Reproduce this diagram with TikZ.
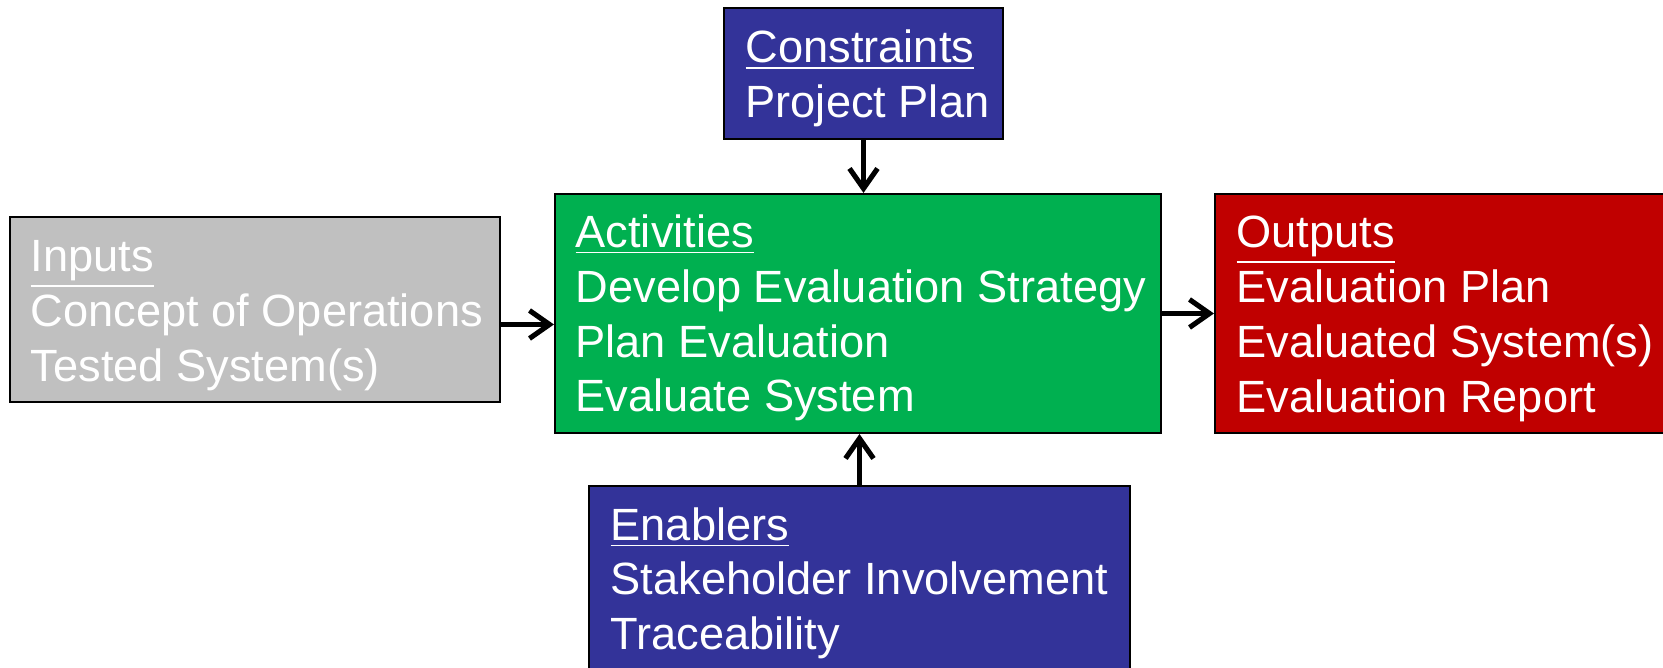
\documentclass[tikz,border=0pt]{standalone}
\usepackage{fontspec}
\setmainfont{Liberation Sans}
\usetikzlibrary{arrows.meta}
\definecolor{boxblue}{RGB}{51,51,153}
\definecolor{boxgreen}{RGB}{0,176,80}
\definecolor{boxred}{RGB}{192,0,0}
\definecolor{boxgray}{RGB}{192,192,192}
\begin{document}
\begin{tikzpicture}[
    box/.style={draw=black,line width=0.6pt,inner sep=0pt},
    txt/.style={text=white,align=left,inner sep=0pt,anchor=west,
      font=\fontsize{12.86}{15.6}\selectfont},
    arr/.style={line width=1.45pt,-{Straight Barb[length=2mm,width=2.8mm]}}]
    \useasboundingbox (0,0) rectangle (16.63,6.68);
    \clip (0,0) rectangle (16.63,6.68);
    %% boxes
    \node[box,fill=boxblue,minimum width=2.79cm,minimum height=1.31cm] (constr) at (8.635,5.945) {};
    \node[box,fill=boxgreen,minimum width=6.06cm,minimum height=2.39cm] (activ) at (8.58,3.545) {};
    \node[box,fill=boxgray,minimum width=4.90cm,minimum height=1.85cm] (inputs) at (2.55,3.585) {};
    \node[box,fill=boxred,minimum width=4.65cm,minimum height=2.39cm] (outputs) at (14.475,3.545) {};
    \node[box,fill=boxblue,minimum width=5.41cm,minimum height=1.88cm] (enabl) at (8.595,0.88) {};
    %% texts
    \node[txt] (constrtxt) at ([xshift=0.22cm,yshift=-0.05cm]constr.west) {\underline{Constraints}\\Project Plan};
    \node[txt] (activtxt) at ([xshift=0.21cm,yshift=-0.045cm]activ.west) {\underline{Activities}\\Develop Evaluation Strategy\\Plan Evaluation\\Evaluate System};
    \node[txt] (inputstxt) at ([xshift=0.21cm,yshift=-0.063cm]inputs.west) {\underline{Inputs}\\Concept of Operations\\Tested System(s)};
    \node[txt] (outputstxt) at ([xshift=0.22cm,yshift=-0.055cm]outputs.west) {\underline{Outputs}\\Evaluation Plan\\Evaluated System(s)\\Evaluation Report};
    \node[txt] (enabltxt) at ([xshift=0.22cm,yshift=-0.033cm]enabl.west) {\underline{Enablers}\\Stakeholder Involvement\\Traceability};
    %% arrows
    \draw[arr] (constr.south) -- (constr.south |- activ.north);
    \draw[arr] (enabl.north) -- (enabl.north |- activ.south);
    \draw[arr] ([yshift=-0.15cm]inputs.east) -- ([yshift=-0.15cm]inputs.east -| activ.west);
    \draw[arr] (activ.east) -- (activ.east -| outputs.west);
\end{tikzpicture}
\end{document}
